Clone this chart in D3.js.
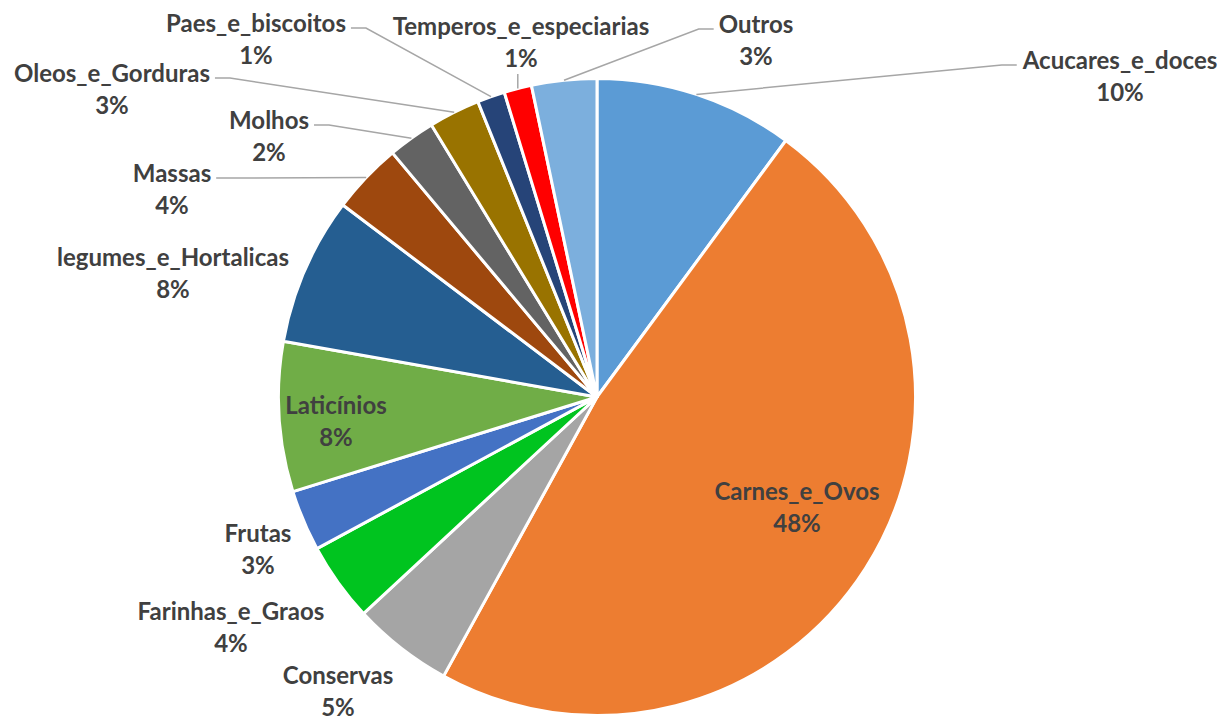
<!DOCTYPE html>
<html>
<head>
<meta charset="utf-8">
<script src="https://cdn.jsdelivr.net/npm/d3@7"></script>
<style>
  body { margin: 0; background: #fff; }
  .lbl { font-family: Lato, "Open Sans", sans-serif; font-weight: bold; font-size: 24px; fill: #404040; }
</style>
</head>
<body>
<script>
'use strict';

// categories and their shares (%), clockwise from 12 o'clock
const categories = ["Acucares_e_doces", "Carnes_e_Ovos", "Conservas", "Farinhas_e_Graos", "Frutas",
  "Laticínios", "legumes_e_Hortalicas", "Massas", "Molhos", "Oleos_e_Gorduras",
  "Paes_e_biscoitos", "Temperos_e_especiarias", "Outros"];
const shares = [10.1, 47.9, 5.1, 4.0, 3.1, 7.6, 7.5, 3.6, 2.4, 2.6, 1.4, 1.4, 3.3];
const colors = ["#5B9BD5", "#ED7D31", "#A5A5A5", "#00C41F", "#4472C4", "#70AD47", "#255E91",
  "#9E480E", "#636363", "#997300", "#264478", "#FF0000", "#7CAFDD"];

// label layout: centre x, first line baseline y, where the leader meets the label
const labelPos = [
  { x: 1120, y: 69, leader: "left" },
  { x: 797, y: 500, leader: null },
  { x: 338, y: 684, leader: null },
  { x: 231, y: 620, leader: null },
  { x: 258, y: 542, leader: null },
  { x: 336, y: 414, leader: null },
  { x: 173, y: 266, leader: null },
  { x: 172, y: 182, leader: "right" },
  { x: 269, y: 129, leader: "right" },
  { x: 112, y: 82, leader: "right" },
  { x: 256, y: 32, leader: "right" },
  { x: 521, y: 35, leader: "bottom" },
  { x: 756, y: 33, leader: "left" }
];

const width = 1225, height = 720;
const cx = 597, cy = 397, radius = 318.5;
const lineGap = 32;

const svg = d3.select("body").append("svg")
  .attr("width", width)
  .attr("height", height);

const total = d3.sum(shares);
const rows = categories.map((c, i) => ({ name: c, value: shares[i], color: colors[i], pos: labelPos[i] }));

const pie = d3.pie().sort(null).value(d => d.value);
const arc = d3.arc().innerRadius(0).outerRadius(radius);
const arcs = pie(rows);

const g = svg.append("g").attr("transform", `translate(${cx},${cy})`);

// slices
g.selectAll("path.slice")
  .data(arcs)
  .enter()
  .append("path")
    .attr("class", "slice")
    .attr("d", arc)
    .style("fill", d => d.data.color)
    .style("stroke", "#fff")
    .style("stroke-width", 3)
    .style("stroke-linejoin", "round");

// labels
const lblGroups = svg.selectAll("g.label")
  .data(arcs)
  .enter()
  .append("g")
    .attr("class", "label");

lblGroups.append("text")
  .attr("class", "lbl name")
  .attr("text-anchor", "middle")
  .attr("x", d => d.data.pos.x)
  .attr("y", d => d.data.pos.y)
  .text(d => d.data.name);

lblGroups.append("text")
  .attr("class", "lbl pct")
  .attr("text-anchor", "middle")
  .attr("x", d => d.data.pos.x)
  .attr("y", d => d.data.pos.y + lineGap)
  .text(d => Math.round(d.data.value / total * 100) + "%");

// leader lines from the slice edge (mid angle) to the label
const leaderLayer = svg.insert("g", "g.label");
lblGroups.each(function(d) {
  const mode = d.data.pos.leader;
  if (!mode) return;
  const mid = (d.startAngle + d.endAngle) / 2;
  const p = [cx + radius * Math.sin(mid), cy - radius * Math.cos(mid)];
  const box = d3.select(this).select("text.name").node().getBBox();
  let pts;
  if (mode === "bottom") {
    const pb = d3.select(this).select("text.pct").node().getBBox();
    pts = [p, [p[0], pb.y + pb.height + 2]];
  } else {
    const ay = d.data.pos.y - 4;
    const ax = mode === "left" ? box.x - 5 : box.x + box.width + 5;
    const ex = mode === "left" ? ax - 15 : ax + 15;
    pts = [p, [ex, ay], [ax, ay]];
  }
  leaderLayer.append("path")
    .attr("d", d3.line()(pts))
    .style("fill", "none")
    .style("stroke", "#A6A6A6")
    .style("stroke-width", 1.5);
});
</script>
</body>
</html>
